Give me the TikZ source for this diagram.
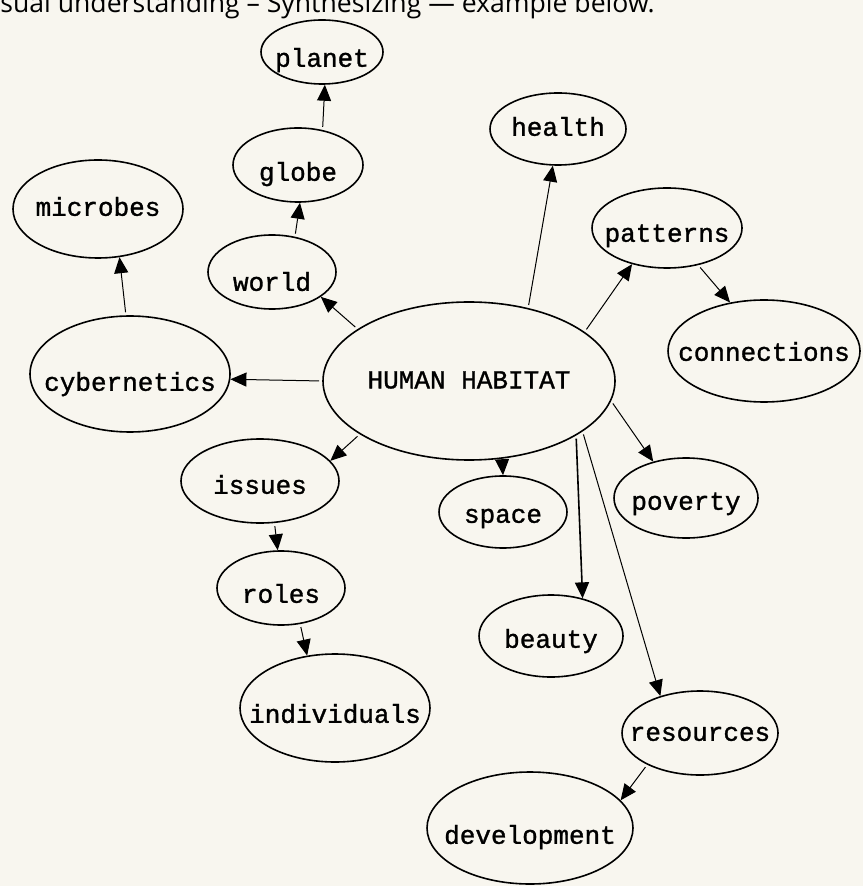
\documentclass[tikz,border=0pt]{standalone}
\usepackage{fontspec}
\setmonofont{Liberation Mono}[FakeBold=1.2]
\newfontfamily\notefont{Open Sans}
\usetikzlibrary{shapes.geometric,arrows.meta}
\definecolor{paper}{HTML}{F8F6EF}
% word inside a bubble, lowered by #1 pt, not widening the bubble
\newcommand\inword[2][0]{\makebox[0pt]{\smash{\raisebox{\dimexpr-3.4pt-#1pt\relax}{#2}}}}

\tikzset{
  bub/.style 2 args={ellipse, draw, line width=0.8pt, inner sep=0pt,
    minimum width=#1, minimum height=#2,
    font=\ttfamily\fontsize{13}{15}\selectfont},
  link/.style={-{Triangle[length=8pt,width=7pt]}, line width=0.5pt,
    shorten <=1.5pt},
}

\begin{document}
\begin{tikzpicture}[x=0.5pt,y=-0.5pt]
% page
\fill[paper] (0,0) rectangle (863,886);
\useasboundingbox (0,0) rectangle (863,886);
% caption line, cut by the top edge
\node[anchor=base west, inner sep=0pt, font=\notefont\fontsize{13.3}{15}\selectfont]
  (note) at (0,13) {sual understanding – Synthesizing — example below.};

% centre
\node[bub={146pt}{79pt}] (hab) at (469,381) {\inword[0.3]{HUMAN HABITAT}};
% upper left chain
\node[bub={61pt}{32pt}] (planet) at (322,52) {\inword[4]{planet}};
\node[bub={65pt}{37pt}] (globe) at (298,165) {\inword[4.5]{globe}};
\node[bub={64pt}{37pt}] (world) at (272,272) {\inword[6]{world}};
\node[bub={85pt}{49pt}] (microbes) at (98,209) {\inword[0]{microbes}};
\node[bub={100pt}{58pt}] (cyber) at (130,374) {\inword[5]{cybernetics}};
% upper right
\node[bub={68pt}{36pt}] (health) at (558,129) {\inword[0]{health}};
\node[bub={75pt}{40pt}] (patterns) at (667,228) {\inword[3.5]{patterns}};
\node[bub={96pt}{51pt}] (connections) at (764,351) {\inword[1.5]{connections}};
% lower left chain
\node[bub={79pt}{42pt}] (issues) at (260,481) {\inword[3]{issues}};
\node[bub={64pt}{37pt}] (roles) at (281,588) {\inword[4]{roles}};
\node[bub={95pt}{54pt}] (individuals) at (335,708) {\inword[4]{individuals}};
% lower right
\node[bub={64pt}{36pt}] (space) at (503,512) {\inword[2]{space}};
\node[bub={72pt}{40pt}] (poverty) at (686,498) {\inword[2.5]{poverty}};
\node[bub={72pt}{41pt}] (beauty) at (551,636) {\inword[2.5]{beauty}};
\node[bub={78pt}{42pt}] (resources) at (700,733) {\inword[0.5]{resources}};
\node[bub={103pt}{56pt}] (development) at (530,828) {\inword[4.5]{development}};

% arrows
\draw[link] (globe.55) -- (planet.-85);
\draw[link] (world.57) -- (globe.-87);
\draw[link] (hab.155) -- (world.-27);
\draw[link] (cyber.94) -- (microbes.-66);
\draw[link] (hab.180) -- (cyber.-3);
\draw[link] (hab.51) -- (health.-98);
\draw[link] (hab.23) -- (patterns.226);
\draw[link] (patterns.-50) -- (connections.125);
\draw[link] (hab.-154) -- (issues.16);
\draw[link] (issues.-71) -- (roles.95);
\draw[link] (roles.-62) -- (individuals.118);
\draw[link] (hab.-67) -- (space.90);
\draw[link] (hab.-8) -- (poverty.132);
\draw[link, line width=0.8pt] (hab.-27) -- (beauty.50);
\draw[link] (hab.-24) -- (resources.137);
\draw[link] (resources.211) -- (development.17);
\end{tikzpicture}
\end{document}
